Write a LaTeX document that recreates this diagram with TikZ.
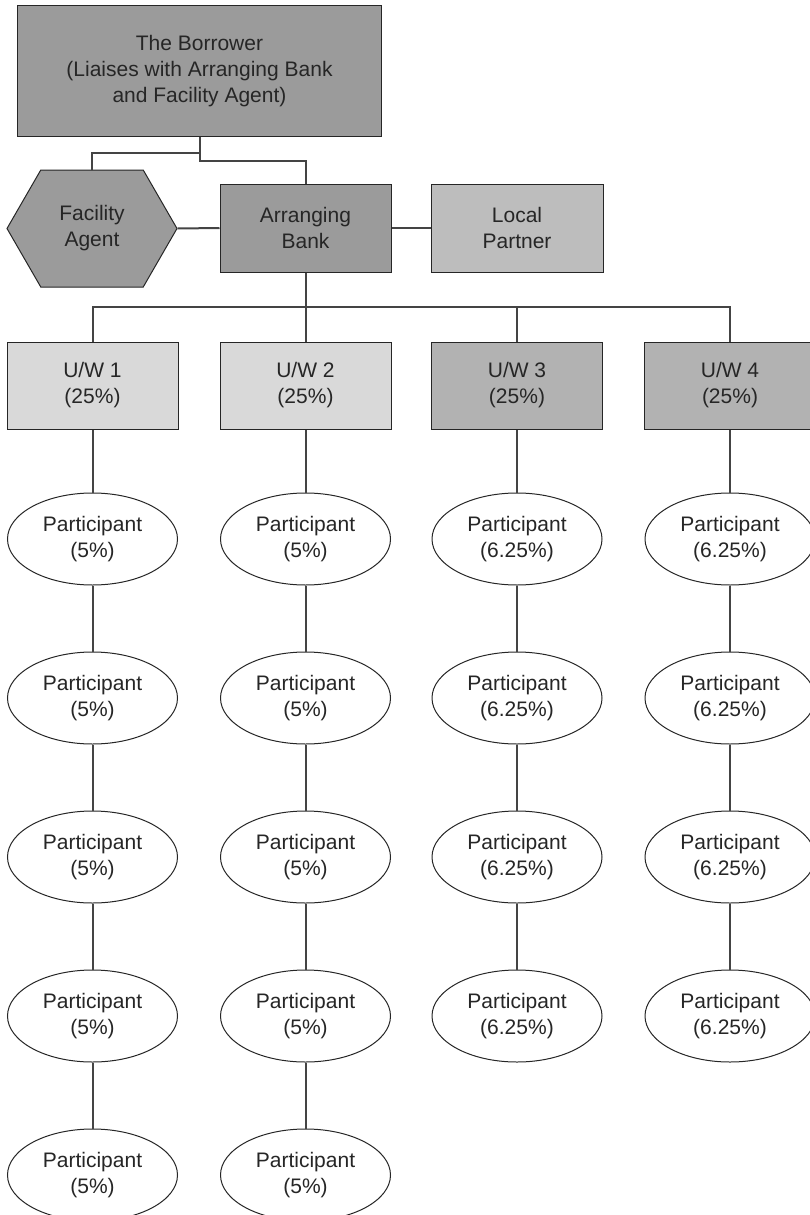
\documentclass[tikz,border=0pt]{standalone}
\usepackage{fontspec}
\setmainfont{Liberation Sans}
\usetikzlibrary{shapes.geometric,shapes.symbols}
\definecolor{gdark}{HTML}{9B9B9B}
\definecolor{gmid}{HTML}{B2B2B2}
\definecolor{glocal}{HTML}{BDBDBD}
\definecolor{glight}{HTML}{D9D9D9}
\definecolor{ink}{HTML}{262626}
\definecolor{wire}{HTML}{444444}
\begin{document}
\begin{tikzpicture}[x=1pt,y=-1pt,
  font=\fontsize{21}{26}\selectfont,
  box/.style={draw=ink, line width=1pt, align=center, inner sep=0pt, text=ink},
  uwbox/.style={box, minimum width=171pt, minimum height=87pt},
  hexa/.style={signal, signal to=east and west, signal pointer angle=120,
    draw=ink, line width=1pt, fill=gdark, minimum width=170pt, minimum height=117pt,
    inner sep=0pt, align=center, text=ink},
  part/.style={ellipse, draw=ink, line width=1pt, fill=white, minimum width=170pt,
    minimum height=92pt, inner sep=0pt, align=center, text=ink},
  conn/.style={draw=wire, line width=2pt}]
\useasboundingbox (0,0) rectangle (809,1215);

\node[box, fill=gdark, minimum width=364pt, minimum height=130pt] (bor) at (199.5,71)
  {The Borrower\\(Liaises with Arranging Bank\\and Facility Agent)};
\node[hexa] (fa) at (92,228.5) {Facility\\Agent};
\node[box, fill=gdark, minimum width=171pt, minimum height=88pt] (ab) at (305.5,228) {Arranging\\Bank};
\node[box, fill=glocal, minimum width=172pt, minimum height=88pt] (lp) at (517,228) {Local\\Partner};

\node[uwbox, fill=glight] (uw1) at (92.5,385.5) {U/W 1\\(25\%)};
\node[uwbox, fill=glight] (uw2) at (305.5,385.5) {U/W 2\\(25\%)};
\node[uwbox, fill=gmid] (uw3) at (517,385.5) {U/W 3\\(25\%)};
\node[uwbox, fill=gmid] (uw4) at (730,385.5) {U/W 4\\(25\%)};

\foreach \c/\x/\n/\p in {1/92.5/5/5, 2/305.5/5/5, 3/517/4/6.25, 4/730/4/6.25}{
  \foreach \r in {1,...,\n}{
    \node[part] (p\c-\r) at (\x,{539+(\r-1)*159}) {Participant\\(\p\%)};
  }
}

\coordinate (j1) at (199.5,153);
\coordinate (j2) at (199.5,161);
\coordinate (j3) at (305.5,307);
\draw[conn] (bor.south) -- (j2) -| (ab.north);
\draw[conn] (j1) -| (fa.north);
\draw[conn] (fa.east) -- (ab.west);
\draw[conn] (ab.east) -- (lp.west);
\draw[conn] (ab.south) -- (j3);
\draw[conn] (uw1.north) |- (j3);
\draw[conn] (j3) -- (uw2.north);
\draw[conn] (j3) -| (uw3.north);
\draw[conn] (j3) -| (uw4.north);

\foreach \c/\n in {1/5, 2/5, 3/4, 4/4}{
  \draw[conn] (uw\c.south) -- (p\c-1.north);
  \foreach \r in {2,...,\n}{
    \pgfmathtruncatemacro{\q}{\r-1}
    \draw[conn] (p\c-\q.south) -- (p\c-\r.north);
  }
}
\end{tikzpicture}
\end{document}
